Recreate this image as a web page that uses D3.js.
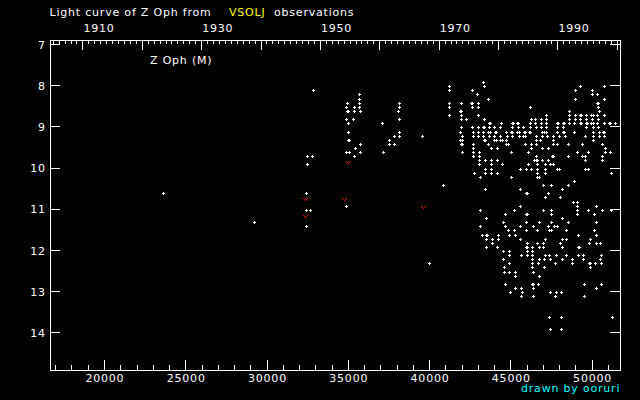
<!DOCTYPE html>
<html><head><meta charset="utf-8">
<script src="https://cdn.jsdelivr.net/npm/d3@7"></script>
<style>
html,body{margin:0;padding:0;background:#000;}
svg{display:block;background:#000;}
text{font-family:"DejaVu Sans",sans-serif;font-size:11px;letter-spacing:0.8px;fill:#fff;}
</style></head><body>
<svg id="chart" width="640" height="400"></svg>
<script>
// ---- data (JD - 2400000, visual magnitude) ----
const magRows = [7.9, 8.0, 8.1, 8.2, 8.3, 8.4, 8.5, 8.6, 8.7, 8.8, 8.9, 9.0, 9.1, 9.2, 9.3, 9.4, 9.5, 9.6, 9.7, 9.8, 9.9,
  10.0, 10.1, 10.2, 10.3, 10.4, 10.5, 10.6, 10.7, 10.8, 10.9, 11.0, 11.1, 11.2, 11.3, 11.4, 11.5, 11.6, 11.7, 11.8, 11.9,
  12.0, 12.1, 12.2, 12.3, 12.4, 12.5, 12.6, 12.8, 12.9, 13.0, 13.1, 13.6, 13.9];
const jdByRow = [
  [43335],
  [41242, 43396, 49306, 50784],
  [32869, 41242, 42657, 48998, 50045],
  [35701, 42965, 50045, 50352],
  [35701, 43642, 48998, 50784],
  [34962, 35701, 38163, 41242, 41980, 42596, 42657, 43027, 50352, 50414],
  [34900, 35393, 35701, 38163, 41242, 42657, 43027, 46228, 50414],
  [34962, 35024, 35393, 35762, 38102, 41919, 41980, 48629, 50476],
  [41242, 41980, 43027, 47213, 48629, 48998, 49306, 49367, 49675, 49983, 50106, 50352, 50784],
  [34900, 35331, 38163, 41980, 42288, 43396, 46289, 46536, 46905, 47213, 48629, 48998, 49306, 49675, 50045, 50414],
  [35024, 37117, 43704, 43766, 44443, 45120, 45181, 45428, 45489, 46228, 46536, 46905, 47213, 47890, 47951, 48259, 48321, 48629, 48937, 49306, 49367, 49675, 49737, 49983, 50106, 50352, 50784, 51091, 51153, 51461],
  [41980, 42657, 43027, 43335, 43396, 43704, 44012, 44381, 45120, 45489, 45797, 46228, 46597, 46905, 47213, 47890, 48259, 49675, 50106, 50414],
  [35024, 38163, 41919, 42719, 43027, 43335, 43642, 43766, 44073, 44135, 44750, 45058, 45120, 45428, 45551, 45859, 45920, 46166, 46228, 46967, 47090, 47213, 47890, 48259, 48321, 48937, 50106, 50476, 50722, 50784],
  [37855, 38163, 39579, 42042, 42719, 43027, 43335, 43704, 44012, 44381, 44812, 45120, 45551, 45797, 45920, 46597, 46967, 47274, 47644, 48013, 48382, 49614, 50106, 50476, 50784],
  [35024, 35085, 37548, 41919, 42042, 43396, 43458, 44012, 44135, 44381, 44504, 44750, 46597, 46844, 47644, 50106],
  [35762, 37548, 37855, 41980, 42042, 42719, 43642, 44750, 44874, 45920, 46289, 46597, 47644, 47890, 48567, 49429, 50660],
  [35455, 42719, 43827, 44196, 46289, 46967, 47336, 50845],
  [34900, 35085, 35762, 37178, 42042, 42719, 43088, 45058, 46105, 49121, 49798, 50845, 51153],
  [32500, 32807, 35393, 42719, 43088, 46597, 47582, 47644, 48567, 49429, 49614, 50660],
  [43088, 43458, 43827, 44196, 46474, 46597, 46659, 46967, 47336, 49614, 50660],
  [32500, 43088, 43827, 44504, 46105, 46659, 47151, 47459, 47644],
  [43458, 43827, 45612, 45982, 46289, 46659, 47151, 47890, 48013, 49614, 49798],
  [42781, 43458, 43827, 44196, 46659, 47151, 51214],
  [43150, 45058, 46659, 46782],
  [48937],
  [40872, 47028, 47521, 48567],
  [43458, 45612, 48198],
  [23632, 32438, 45982, 46043, 47336],
  [47151, 48075],
  [48875, 49121],
  [34900, 45612, 49121, 50291],
  [32438, 32684, 43150, 45243, 47028, 47521, 49121, 49798, 50660, 51214],
  [44689, 45982, 46043, 47521, 49121, 50168],
  [43519, 48198],
  [29235, 44566, 45982, 46782, 47521, 48567, 50291],
  [32438, 43150, 44689, 45612, 46413, 47336, 47705, 47890],
  [44874, 45243, 45982, 46659, 47398, 47521, 48444, 50168],
  [43273, 43519, 43581, 44258, 44935, 45305, 49183, 50291],
  [43519, 43889, 44258, 45612, 47151, 48198, 48444, 49922],
  [43889, 46043, 46659, 47028, 48075, 49860, 50291, 50537],
  [43519, 44196, 45982, 46043, 46351, 46782, 47028, 48198, 49183, 49244],
  [44566, 44935, 46043, 46351],
  [44935, 45674, 46043, 46351, 47151, 47398, 47828, 48444, 49183, 49491, 50599],
  [44566, 46351, 46782, 47090, 47459, 48198, 48813, 49491, 50537],
  [40010, 44935, 46351, 46720, 47767, 48813, 49860, 49922, 50229, 50599],
  [44627, 46351, 47090, 49922],
  [44627, 44935, 45305, 46413],
  [45305, 46782],
  [44689, 46351, 46413, 46720, 49552, 50599],
  [45305, 45674, 46413, 50291],
  [44997, 45735, 47459, 47828, 48136],
  [45674, 46413, 47767, 49552],
  [47398, 48136, 51276],
  [47459, 48136]
];
// "fainter than" observations
const limitJD  = [35024, 32377, 32377, 34777, 39640];
const limitMag = [9.9, 10.8, 11.2, 10.8, 11.0];

const jdMajorTicks = [20000, 25000, 30000, 35000, 40000, 45000, 50000];
const magTicks = [7, 8, 9, 10, 11, 12, 13, 14];
const yearLabels = [1910, 1930, 1950, 1970, 1990];

// ---- layout ----
const L = 50, R = 620, T = 40, B = 370;
const svg = d3.select("#chart");

const x = d3.scaleLinear().domain([16678, 51741]).range([L, R]);
const y = d3.scaleLinear().domain([7, 14]).range([44, 332.4]);
const jdOfYear = yr => 15020.5 + (yr - 1900) * 365.2425;
const yearOfJD = jd => 1900 + (jd - 15020.5) / 365.2425;
const xYear = d3.scaleLinear().domain(x.domain().map(yearOfJD)).range([L, R]);

// frame
svg.append("rect").attr("x", L + 0.5).attr("y", T + 0.5).attr("width", R - L).attr("height", B - T)
  .attr("fill", "none").attr("stroke", "#fff").attr("shape-rendering", "crispEdges");

function styleAxis(g) {
  g.attr("color", "#fff").attr("shape-rendering", "crispEdges");
  g.select(".domain").remove();
}

// bottom axis (JD)
const jdMinor = d3.range(17000, 51001, 1000).filter(d => d % 5000 !== 0);
svg.append("g").attr("transform", `translate(0,${B})`)
  .call(d3.axisBottom(x).tickValues(jdMinor).tickSize(-5).tickFormat(""))
  .call(styleAxis);
const gb = svg.append("g").attr("transform", `translate(0,${B})`)
  .call(d3.axisBottom(x).tickValues(jdMajorTicks).tickSize(-10).tickFormat(d3.format("d")))
  .call(styleAxis);
gb.selectAll("text").attr("y", 12).attr("dy", null).attr("dx", "0.4");

// top axis (years)
const yrMinor = d3.range(1905, 2001).filter(d => d % 10 !== 0);
const yrMajor = d3.range(1910, 2001, 10);
svg.append("g").attr("transform", `translate(0,${T})`)
  .call(d3.axisTop(xYear).tickValues(yrMinor).tickSize(-4).tickFormat(""))
  .call(styleAxis);
const gt = svg.append("g").attr("transform", `translate(0,${T})`)
  .call(d3.axisTop(xYear).tickValues(yrMajor).tickSize(-10)
    .tickFormat(d => yearLabels.includes(d) ? String(d) : ""))
  .call(styleAxis);
gt.selectAll("text").attr("text-anchor", "start").attr("x", 0.5).attr("y", -8.3).attr("dy", null);

// left / right axes (magnitude)
const gl = svg.append("g").attr("transform", `translate(${L},0)`)
  .call(d3.axisLeft(y).tickValues(magTicks).tickSize(-10).tickFormat(d3.format("d")))
  .call(styleAxis);
gl.selectAll("text").attr("x", -4.2).attr("dy", "4");
svg.append("g").attr("transform", `translate(${R},0)`)
  .call(d3.axisRight(y).tickValues(magTicks).tickSize(-10).tickFormat(""))
  .call(styleAxis);

// observations (white plus)
const obs = [];
magRows.forEach((m, i) => jdByRow[i].forEach(jd => obs.push({ jd, m })));
svg.append("g").attr("shape-rendering", "crispEdges")
  .selectAll("path").data(obs).join("path")
  .attr("fill", "#fff")
  .attr("d", d => {
    const cx = Math.round(x(d.jd)), cy = Math.round(y(d.m)) + 1;
    return `M${cx - 1},${cy}h3v1h-3zM${cx},${cy - 1}h1v3h-1z`;
  });

// fainter-than marks (red v)
const lims = limitJD.map((jd, i) => ({ jd, m: limitMag[i] }));
svg.append("g").attr("shape-rendering", "crispEdges")
  .selectAll("path").data(lims).join("path")
  .attr("fill", "#e00000")
  .attr("d", d => {
    const cx = Math.round(x(d.jd)), cy = Math.floor(y(d.m));
    return `M${cx - 2},${cy - 2}h1v1h-1zM${cx + 2},${cy - 2}h1v1h-1zM${cx - 1},${cy - 1}h1v1h-1zM${cx + 1},${cy - 1}h1v1h-1zM${cx},${cy}h1v1h-1z`;
  });

// texts
const title = svg.append("text").attr("y", 16);
title.append("tspan").attr("x", 49.5).text("Light curve of Z Oph from");
title.append("tspan").attr("x", 229).style("fill", "#ffff00").text("VSOLJ");
title.append("tspan").attr("x", 274).text("observations");

svg.append("text").attr("x", 150).attr("y", 64).text("Z Oph (M)");
svg.append("text").attr("x", 521).attr("y", 392).style("fill", "#00ffff").text("drawn by ooruri");
</script>
</body></html>
